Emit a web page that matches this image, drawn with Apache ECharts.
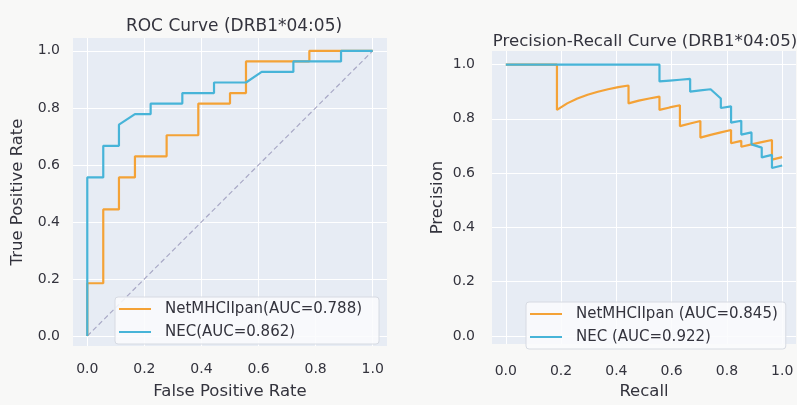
<!DOCTYPE html>
<html>
<head>
<meta charset="utf-8">
<script src="https://cdn.jsdelivr.net/npm/echarts@6/dist/echarts.min.js"></script>
<style>
  html, body { margin: 0; padding: 0; background: #f8f8f7; }
  #chart { width: 797px; height: 405px; }
</style>
</head>
<body>
<div id="chart"></div>
<script>
// tick positions shared by both panels
const ticks = [0, 0.2, 0.4, 0.6, 0.8, 1.0];

// ROC curve, NetMHCIIpan
const rocFprNet = [0, 0, 0.056, 0.056, 0.111, 0.111, 0.167, 0.167, 0.278, 0.278, 0.389, 0.389, 0.5, 0.5, 0.556, 0.556, 0.778, 0.778, 1.0];
const rocTprNet = [0, 0.185, 0.185, 0.444, 0.444, 0.556, 0.556, 0.63, 0.63, 0.704, 0.704, 0.815, 0.815, 0.852, 0.852, 0.963, 0.963, 1.0, 1.0];

// ROC curve, NEC
const rocFprNec = [0, 0, 0.056, 0.056, 0.111, 0.111, 0.167, 0.222, 0.222, 0.333, 0.333, 0.444, 0.444, 0.556, 0.611, 0.722, 0.722, 0.889, 0.889, 1.0];
const rocTprNec = [0, 0.556, 0.556, 0.667, 0.667, 0.741, 0.778, 0.778, 0.815, 0.815, 0.852, 0.852, 0.889, 0.889, 0.926, 0.926, 0.963, 0.963, 1.0, 1.0];

// PR curve, NetMHCIIpan
const prRecNet = [0, 0.185, 0.185, 0.222, 0.259, 0.296, 0.333, 0.370, 0.407, 0.444, 0.444, 0.481, 0.519, 0.556, 0.556, 0.593, 0.630, 0.630, 0.630, 0.667, 0.704, 0.704, 0.704, 0.741, 0.778, 0.815, 0.815, 0.815, 0.852, 0.852, 0.889, 0.926, 0.963, 0.963, 0.963, 0.963, 0.963, 1.0];
const prPreNet = [1.0, 1.0, 0.833, 0.857, 0.875, 0.889, 0.9, 0.909, 0.917, 0.923, 0.857, 0.867, 0.875, 0.882, 0.833, 0.842, 0.85, 0.81, 0.773, 0.783, 0.792, 0.76, 0.731, 0.741, 0.75, 0.759, 0.733, 0.71, 0.719, 0.697, 0.706, 0.714, 0.722, 0.703, 0.684, 0.667, 0.65, 0.659];

// PR curve, NEC
const prRecNec = [0, 0.556, 0.556, 0.593, 0.630, 0.667, 0.667, 0.704, 0.741, 0.778, 0.778, 0.815, 0.815, 0.815, 0.852, 0.852, 0.852, 0.889, 0.889, 0.889, 0.926, 0.926, 0.926, 0.963, 0.963, 0.963, 0.963, 1.0];
const prPreNec = [1.0, 1.0, 0.938, 0.941, 0.944, 0.947, 0.9, 0.905, 0.909, 0.875, 0.84, 0.846, 0.815, 0.786, 0.793, 0.767, 0.742, 0.75, 0.727, 0.706, 0.694, 0.676, 0.658, 0.667, 0.65, 0.634, 0.619, 0.628];

const chanceLine = [0, 1];

const NET_COLOR = "#f4a236";
const NEC_COLOR = "#47b4d8";
const TEXT_COLOR = "#33333d";

const zip = (xs, ys) => xs.map((x, i) => [x, ys[i]]);

const chartDom = document.getElementById("chart");
const myChart = echarts.init(chartDom);

function xAxisFor(gridIndex, name, labelMargin) {
  return {
    gridIndex,
    type: "value",
    min: -0.05,
    max: 1.05,
    name,
    nameLocation: "middle",
    nameGap: 37,
    nameTextStyle: { fontSize: 16.5, color: TEXT_COLOR, fontFamily: "DejaVu Sans" },
    axisLine: { show: false },
    axisTick: { show: false, customValues: ticks },
    axisLabel: {
      customValues: ticks,
      formatter: (v) => v.toFixed(1),
      margin: labelMargin,
      fontSize: 14,
      color: TEXT_COLOR,
      fontFamily: "DejaVu Sans",
    },
    splitLine: { show: true, lineStyle: { color: "#ffffff", width: 1 } },
  };
}

function yAxisFor(gridIndex, name, min, max, labelMargin, nameGap) {
  return {
    gridIndex,
    type: "value",
    min,
    max,
    name,
    nameLocation: "middle",
    nameGap,
    nameTextStyle: { fontSize: 16.5, color: TEXT_COLOR, fontFamily: "DejaVu Sans" },
    axisLine: { show: false },
    axisTick: { show: false, customValues: ticks },
    axisLabel: {
      customValues: ticks,
      formatter: (v) => v.toFixed(1),
      margin: labelMargin,
      fontSize: 14,
      color: TEXT_COLOR,
      fontFamily: "DejaVu Sans",
    },
    splitLine: { show: true, lineStyle: { color: "#ffffff", width: 1 } },
  };
}

function legendFor(names, left, top, padRight) {
  return {
    data: names,
    orient: "vertical",
    left,
    top,
    icon: "rect",
    itemWidth: 32,
    itemHeight: 2,
    itemGap: 7,
    backgroundColor: "rgba(250,251,253,0.85)",
    borderColor: "#d6dae2",
    borderWidth: 1,
    borderRadius: 3,
    padding: [4, padRight, 4, 4],
    textStyle: {
      fontSize: 15,
      lineHeight: 16,
      color: TEXT_COLOR,
      fontFamily: "DejaVu Sans",
      padding: [0, 0, 0, 9],
    },
  };
}

const curve = (name, data, color, xi) => ({
  name,
  type: "line",
  xAxisIndex: xi,
  yAxisIndex: xi,
  data,
  showSymbol: false,
  symbol: "none",
  lineStyle: { width: 2.2, color },
  itemStyle: { color },
  silent: true,
});

const option = {
  backgroundColor: "#f8f8f7",
  animation: false,
  title: [
    {
      text: "ROC Curve (DRB1*04:05)",
      left: 229,
      top: 13,
      textAlign: "center",
      textStyle: { fontSize: 17, fontWeight: "normal", color: TEXT_COLOR, fontFamily: "DejaVu Sans" },
    },
    {
      text: "Precision-Recall Curve (DRB1*04:05)",
      left: 640,
      top: 28,
      textAlign: "center",
      textStyle: { fontSize: 16.6, fontWeight: "normal", color: TEXT_COLOR, fontFamily: "DejaVu Sans" },
    },
  ],
  grid: [
    { left: 73, top: 38, width: 314, height: 312, show: true, backgroundColor: "#e7ecf4", borderWidth: 0 },
    { left: 492, top: 51, width: 304, height: 302, show: true, backgroundColor: "#e7ecf4", borderWidth: 0 },
  ],
  xAxis: [xAxisFor(0, "False Positive Rate", 16), xAxisFor(1, "Recall", 20)],
  yAxis: [
    yAxisFor(0, "True Positive Rate", -0.035, 1.045, 13, 47),
    yAxisFor(1, "Precision", -0.03, 1.05, 17, 46),
  ],
  legend: [
    legendFor(["NetMHCIIpan(AUC=0.788)", "NEC(AUC=0.862)"], 115, 297, 17),
    legendFor(["NetMHCIIpan (AUC=0.845)", "NEC (AUC=0.922)"], 526, 302, 8),
  ],
  series: [
    {
      type: "line",
      xAxisIndex: 0,
      yAxisIndex: 0,
      data: zip(chanceLine, chanceLine),
      showSymbol: false,
      symbol: "none",
      lineStyle: { width: 1.2, color: "#a9a9c6", type: [5, 3] },
      silent: true,
    },
    curve("NetMHCIIpan(AUC=0.788)", zip(rocFprNet, rocTprNet), NET_COLOR, 0),
    curve("NEC(AUC=0.862)", zip(rocFprNec, rocTprNec), NEC_COLOR, 0),
    curve("NetMHCIIpan (AUC=0.845)", zip(prRecNet, prPreNet), NET_COLOR, 1),
    curve("NEC (AUC=0.922)", zip(prRecNec, prPreNec), NEC_COLOR, 1),
  ],
};

myChart.setOption(option);
</script>
</body>
</html>
